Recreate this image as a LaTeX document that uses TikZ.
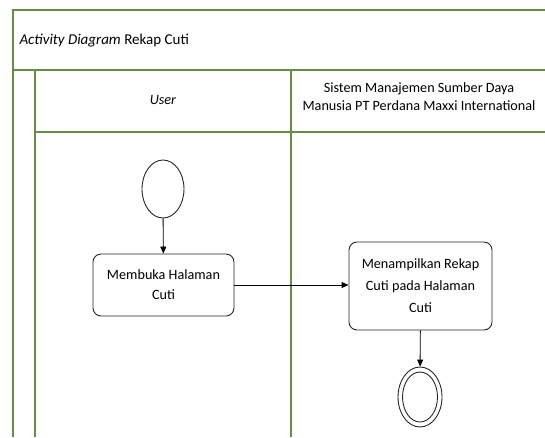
\documentclass[tikz,border=0pt]{standalone}
\usepackage{fontspec}
\setmainfont{Carlito}
\usetikzlibrary{arrows.meta,shapes.geometric}
\definecolor{lanegreen}{RGB}{104,140,72}
\begin{document}
\begin{tikzpicture}[x=1pt,y=-1pt,
  lane/.style={draw=lanegreen,line width=1.3pt},
  actbox/.style={draw=black!85,line width=0.9pt,rounded corners=8pt,align=center,font=\fontsize{14.2}{20}\selectfont},
  oval/.style={draw=black!85,line width=0.9pt,ellipse,inner sep=0pt},
  flow/.style={draw=black,line width=0.9pt,-{Triangle[length=7pt,width=6pt]}},
  lbl/.style={font=\fontsize{14.2}{18}\selectfont,align=center}]
\useasboundingbox (0,0) rectangle (545,437);
% swimlane frame
\draw[lane] (545,10) -- (13,10) -- (13,437);
\draw[lane] (13,70) -- (545,70);
\draw[lane] (35,70) -- (35,437);
\draw[lane] (291,70) -- (291,437);
\draw[lane] (35,132) -- (545,132);
% headings
\node[lbl,anchor=west,font=\fontsize{15}{18}\selectfont] (title) at (16,41) {\textit{Activity Diagram} Rekap Cuti};
\node[lbl] (userlane) at (163,100) {\textit{User}};
\node[lbl] (syslane) at (419,97) {Sistem Manajemen Sumber Daya\\Manusia PT Perdana Maxxi International};
% activities
\node[oval,minimum width=42pt,minimum height=58pt] (start) at (163,189) {};
\node[actbox,minimum width=141pt,minimum height=62pt] (open) at (163.5,285) {Membuka Halaman\\Cuti};
\node[actbox,minimum width=143pt,minimum height=88pt,font=\fontsize{14.2}{22}\selectfont] (show) at (420.5,286) {Menampilkan Rekap\\Cuti pada Halaman\\Cuti};
\node[oval,minimum width=44pt,minimum height=60pt] (stop) at (420,397) {};
\node[oval,minimum width=35pt,minimum height=50pt] (stopin) at (420,397) {};
% flows
\draw[flow] (start) -- (open);
\draw[flow] (open.east) -- (show.west |- open.east);
\draw[flow] (show) -- (stop);
\end{tikzpicture}
\end{document}
